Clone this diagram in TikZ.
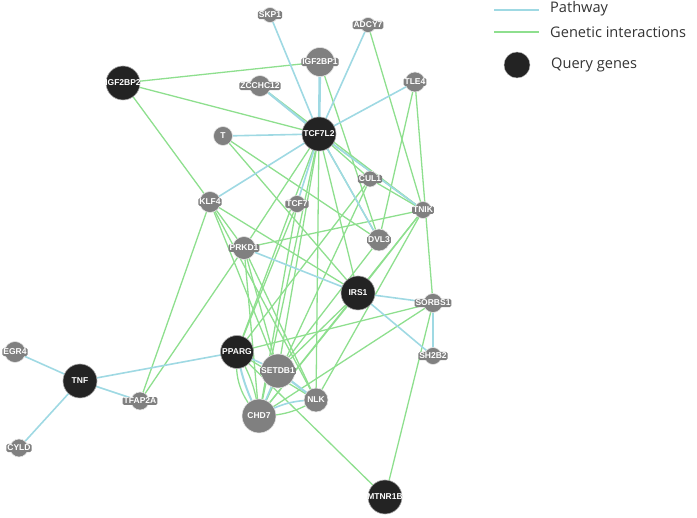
\documentclass[tikz,border=0pt]{standalone}
\usepackage{fontspec}
\setmainfont{Open Sans}
\newfontfamily\labfont{Liberation Sans}
\usetikzlibrary{backgrounds}
\definecolor{pw}{HTML}{9FD9E3}
\definecolor{gi}{HTML}{8EDF8E}
\definecolor{qg}{HTML}{232323}
\definecolor{ng}{HTML}{808080}
\begin{document}
\begin{tikzpicture}[x=1pt,y=-1pt,
 qn/.style={circle,fill=qg,draw=gray!70,line width=0.6pt,inner sep=0pt},
 gn/.style={circle,fill=ng,draw=white!80!gray,line width=0.6pt,inner sep=0pt},
 ql/.style={font=\labfont\bfseries\fontsize{8.5}{9}\selectfont,text=white,inner sep=0pt},
 gl/.style={ql,fill=ng,rounded corners=1.5pt,inner xsep=1pt,inner ysep=1pt},
 pwl/.style={draw=pw,line width=1.6pt},
 gil/.style={draw=gi,line width=1.3pt},
 legt/.style={font=\fontsize{14.6}{16}\selectfont,text=black!80,anchor=west,inner sep=0pt}
]
\useasboundingbox (0,0) rectangle (697,518);
% query genes
\node[qn,minimum size=34pt] (TCF7L2) at (319,134) {};
\node[qn,minimum size=34pt] (IGF2BP2) at (123,83) {};
\node[qn,minimum size=34pt] (IRS1) at (358,293) {};
\node[qn,minimum size=33pt] (PPARG) at (237,352) {};
\node[qn,minimum size=34pt] (TNF) at (80,381) {};
\node[qn,minimum size=34pt] (MTNR1B) at (385,497) {};
% other genes
\node[gn,minimum size=15pt] (SKP1) at (270,15) {};
\node[gn,minimum size=15pt] (ADCY7) at (368,25) {};
\node[gn,minimum size=29pt] (IGF2BP1) at (320,62) {};
\node[gn,minimum size=21pt] (ZCCHC12) at (260,86) {};
\node[gn,minimum size=20pt] (TLE4) at (415,82) {};
\node[gn,minimum size=19pt] (T) at (223,136) {};
\node[gn,minimum size=16pt] (CUL1) at (370,179) {};
\node[gn,minimum size=21pt] (KLF4) at (210,202) {};
\node[gn,minimum size=17pt] (TCF7) at (297,204) {};
\node[gn,minimum size=17pt] (TNIK) at (423,210) {};
\node[gn,minimum size=22pt] (DVL3) at (379,240) {};
\node[gn,minimum size=23pt] (PRKD1) at (244,248) {};
\node[gn,minimum size=19pt] (SORBS1) at (433,303) {};
\node[gn,minimum size=17pt] (SH2B2) at (433,356) {};
\node[gn,minimum size=34pt] (SETDB1) at (278,371) {};
\node[gn,minimum size=24pt] (NLK) at (316,400) {};
\node[gn,minimum size=34pt] (CHD7) at (259,416) {};
\node[gn,minimum size=21pt] (EGR4) at (15,352) {};
\node[gn,minimum size=18pt] (TFAP2A) at (140,401) {};
\node[gn,minimum size=18pt] (CYLD) at (19,448) {};
% labels
\node[ql] (TCF7L2-t) at (TCF7L2) {TCF7L2};
\node[ql] (IGF2BP2-t) at (IGF2BP2) {IGF2BP2};
\node[ql] (IRS1-t) at (IRS1) {IRS1};
\node[ql] (PPARG-t) at (PPARG) {PPARG};
\node[ql] (TNF-t) at (TNF) {TNF};
\node[ql] (MTNR1B-t) at (MTNR1B) {MTNR1B};
\node[gl] (SKP1-t) at (SKP1) {SKP1};
\node[gl] (ADCY7-t) at (ADCY7) {ADCY7};
\node[gl] (IGF2BP1-t) at (IGF2BP1) {IGF2BP1};
\node[gl] (ZCCHC12-t) at (ZCCHC12) {ZCCHC12};
\node[gl] (TLE4-t) at (TLE4) {TLE4};
\node[gl] (T-t) at (T) {T};
\node[gl] (CUL1-t) at (CUL1) {CUL1};
\node[gl] (KLF4-t) at (KLF4) {KLF4};
\node[gl] (TCF7-t) at (TCF7) {TCF7};
\node[gl] (TNIK-t) at (TNIK) {TNIK};
\node[gl] (DVL3-t) at (DVL3) {DVL3};
\node[gl] (PRKD1-t) at (PRKD1) {PRKD1};
\node[gl] (SORBS1-t) at (SORBS1) {SORBS1};
\node[gl] (SH2B2-t) at (SH2B2) {SH2B2};
\node[gl] (SETDB1-t) at (SETDB1) {SETDB1};
\node[gl] (NLK-t) at (NLK) {NLK};
\node[gl] (CHD7-t) at (CHD7) {CHD7};
\node[gl] (EGR4-t) at (EGR4) {EGR4};
\node[gl] (TFAP2A-t) at (TFAP2A) {TFAP2A};
\node[gl] (CYLD-t) at (CYLD) {CYLD};
% edges
\begin{pgfonlayer}{background}
\foreach \a/\b in {IGF2BP2/IGF2BP1, IGF2BP2/TCF7L2, IGF2BP2/PRKD1, IGF2BP1/DVL3,
  ADCY7/TNIK, TLE4/DVL3, TLE4/SORBS1, T/IRS1, T/DVL3, ZCCHC12/TCF7L2, ZCCHC12/TNIK,
  TCF7L2/CUL1, TCF7L2/TNIK, TCF7L2/IRS1, TCF7L2/PPARG, TCF7L2/SETDB1, TCF7L2/CHD7,
  TCF7L2/NLK, TCF7L2/PRKD1, KLF4/TFAP2A, PRKD1/TFAP2A, KLF4/IRS1, KLF4/NLK,
  KLF4/SETDB1, PRKD1/TNIK, PRKD1/CHD7, PRKD1/NLK, PRKD1/SETDB1, CUL1/PPARG, CUL1/CHD7,
  TNIK/CHD7, TNIK/NLK, TNIK/IRS1, DVL3/SETDB1, IRS1/SETDB1, IRS1/CHD7, SORBS1/PPARG,
  SORBS1/CHD7, SORBS1/MTNR1B, PPARG/MTNR1B, PPARG/NLK, TCF7/CHD7, TCF7/PPARG,
  CUL1/TNIK, TCF7L2/DVL3}
  \draw[gil] (\a.center) -- (\b.center);
\draw[gil] (PPARG.center) to[bend right=25] (CHD7.center);
\draw[gil] (PPARG.center) to[bend left=12] (CHD7.center);
\draw[gil] (CHD7.center) to[bend right=15] (NLK.center);
\foreach \a/\b in {SKP1/TCF7L2, ADCY7/TCF7L2, TLE4/TCF7L2, T/TCF7L2, KLF4/TCF7L2,
  TCF7/TCF7L2, TCF7L2/TNIK, TCF7L2/DVL3, PRKD1/IRS1, IRS1/SORBS1, IRS1/SH2B2,
  TNF/EGR4, TNF/CYLD, TNF/TFAP2A, TNF/PPARG, PPARG/SETDB1, SETDB1/CHD7}
  \draw[pwl] (\a.center) -- (\b.center);
\draw[pwl,line width=2.6pt] (IGF2BP1.center) -- (TCF7L2.center);
\draw[pwl,line width=2.2pt] (ZCCHC12.center) -- (TCF7L2.center);
\draw[pwl,line width=2.6pt] (SORBS1.center) -- (SH2B2.center);
\draw[pwl,line width=2.2pt] (SETDB1.center) -- (NLK.center);
\draw[pwl,line width=2pt] (PPARG.center) to[bend right=8] (CHD7.center);
\draw[pwl] (CHD7.center) to[bend left=15] (NLK.center);
\end{pgfonlayer}
% legend
\coordinate (L1a) at (494,10); \coordinate (L1b) at (539,10);
\coordinate (L2a) at (494,32); \coordinate (L2b) at (539,32);
\draw[pwl,line width=1.8pt] (L1a) -- (L1b);
\draw[gil,line width=1.8pt] (L2a) -- (L2b);
\node[legt] (leg1) at (550,9) {Pathway};
\node[legt] (leg2) at (550,32) {Genetic interactions};
\node[circle,fill=qg,draw=gray!60,minimum size=26pt,inner sep=0pt] (legq) at (517,65) {};
\node[legt] (leg3) at (551,65) {Query genes};
\end{tikzpicture}
\end{document}
